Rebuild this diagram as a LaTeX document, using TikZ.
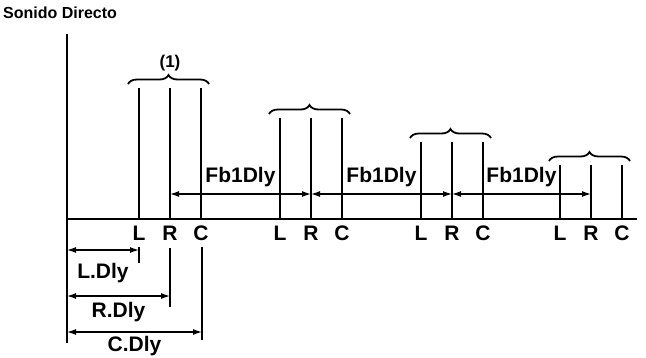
\documentclass[tikz,border=0pt]{standalone}
\usepackage{fontspec}
\setmainfont{Liberation Sans}
\usetikzlibrary{arrows.meta,decorations.pathreplacing,calc}

\begin{document}
\begin{tikzpicture}[x=1pt,y=-1pt,
  pulse/.style={line width=1.8pt},
  lab/.style={font=\fontsize{21}{21}\selectfont\bfseries, inner sep=0pt},
  dim/.style={line width=1.3pt, {Latex[length=9pt,width=6pt]}-{Latex[length=9pt,width=6pt]}},
  ext/.style={line width=1.5pt},
  grp/.style={line width=1.8pt, decorate, decoration={brace, amplitude=9pt}}]
\useasboundingbox (0,0) rectangle (646,357);
\node[lab, font=\fontsize{16}{16}\selectfont\bfseries, anchor=west] (title) at (3,13) {Sonido Directo};
% axes
\coordinate (o) at (67,219);
\coordinate (axtop) at (67,34);
\coordinate (axbot) at (67,343);
\coordinate (base) at (637,219);
\draw[line width=2.4pt] (axtop) -- (axbot);
\draw[line width=1.8pt] (o) -- (base);
% the four groups of taps
\foreach \g/\xx/\yy in {1/139/88, 2/280/118, 3/421/142, 4/560/165} {
  \foreach \p/\dx in {L/0, R/31, C/62} {
    \coordinate (\p\g) at (\xx+\dx,219);
    \coordinate (\p\g t) at (\xx+\dx,\yy);
    \coordinate (\p\g d) at (\xx+\dx,194);
    \draw[pulse] (\p\g) -- (\p\g t);
    \node[lab] (\p\g lab) at (\xx+\dx,233) {\p};
  }
  \draw[grp] ($(L\g t)+(-11,-4)$) -- ($(C\g t)+(8,-4)$);
}
\node[lab, font=\fontsize{17}{17}\selectfont\bfseries] (one) at (170,63) {(1)};
% feedback delays
\foreach \g/\h in {1/2, 2/3, 3/4}
  \draw[dim] (R\g d) -- (R\h d) node[midway, lab, above=6pt] {Fb1Dly};
% L, R, C delays
\coordinate (Lx) at (139,247);
\coordinate (Lxe) at (139,263);
\coordinate (Rx) at (170,248);
\coordinate (Rxe) at (170,307);
\coordinate (Cx) at (202,247);
\coordinate (Cxe) at (202,340);
\draw[ext] (Lx) -- (Lxe);
\draw[ext] (Rx) -- (Rxe);
\draw[ext] (Cx) -- (Cxe);
\coordinate (dl0) at (67,250);
\coordinate (dl1) at (139,250);
\coordinate (dr0) at (67,296);
\coordinate (dr1) at (170,296);
\coordinate (dc0) at (67,332);
\coordinate (dc1) at (202,332);
\draw[dim] (dl0) -- (dl1) node[midway, lab, below=13pt] (ldly) {L.Dly};
\draw[dim] (dr0) -- (dr1) node[midway, lab, below=6pt] (rdly) {R.Dly};
\draw[dim] (dc0) -- (dc1) node[midway, lab, below=4pt] (cdly) {C.Dly};
\end{tikzpicture}
\end{document}
